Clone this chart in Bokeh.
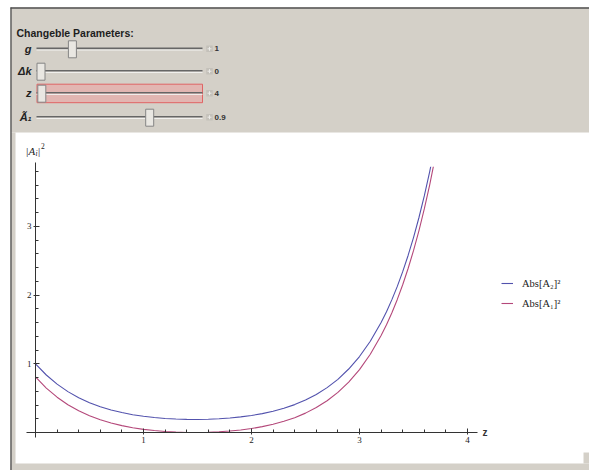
from bokeh.plotting import figure
from bokeh.models import Range1d, FixedTicker, LinearAxis, Legend, LegendItem
from bokeh.core.properties import value
from bokeh.embed import file_html
from bokeh.resources import INLINE

# ---- data -------------------------------------------------------------
z = [0.0, 0.1, 0.2, 0.3, 0.4, 0.5, 0.6, 0.7, 0.8, 0.9, 1.0, 1.1, 1.2, 1.3,
     1.4, 1.5, 1.6, 1.7, 1.8, 1.9, 2.0, 2.1, 2.2, 2.3, 2.4, 2.5, 2.6, 2.7,
     2.8, 2.9, 3.0, 3.1, 3.2, 3.25, 3.3, 3.35, 3.4, 3.45, 3.5, 3.55, 3.6,
     3.65, 3.7, 3.75, 3.8]
abs_a2_sq = [1.000, 0.837, 0.704, 0.595, 0.506, 0.434, 0.375, 0.328, 0.290,
             0.259, 0.236, 0.218, 0.204, 0.196, 0.191, 0.190, 0.193, 0.200,
             0.211, 0.227, 0.248, 0.275, 0.310, 0.353, 0.406, 0.472, 0.553,
             0.653, 0.774, 0.924, 1.106, 1.329, 1.601, 1.759, 1.934, 2.127,
             2.341, 2.577, 2.837, 3.126, 3.444, 3.796, 4.186, 4.616, 5.091]
abs_a1_sq = [0.810, 0.647, 0.514, 0.405, 0.316, 0.244, 0.185, 0.138, 0.100,
             0.069, 0.046, 0.028, 0.014, 0.006, 0.001, 0.000, 0.003, 0.010,
             0.021, 0.037, 0.058, 0.085, 0.120, 0.163, 0.216, 0.282, 0.363,
             0.463, 0.584, 0.734, 0.916, 1.139, 1.411, 1.569, 1.744, 1.937,
             2.151, 2.387, 2.647, 2.936, 3.254, 3.606, 3.996, 4.426, 4.901]
series_labels = ["Abs[A\u2082]\u00b2", "Abs[A\u2081]\u00b2"]

x_ticks = [1, 2, 3, 4]
x_minor = [0.2, 0.4, 0.6, 0.8, 1.2, 1.4, 1.6, 1.8, 2.2, 2.4, 2.6, 2.8,
           3.2, 3.4, 3.6, 3.8]
y_ticks = [1, 2, 3]
y_minor = [0.2, 0.4, 0.6, 0.8, 1.2, 1.4, 1.6, 1.8, 2.2, 2.4, 2.6, 2.8,
           3.2, 3.4, 3.6, 3.8]
y_clip = 3.87          # upper plot range

# control panel parameters
param_labels = ["g", "\u0394k", "z", "\u00c3\u2081"]
param_values = [1, 0, 4, 0.9]
param_texts = ["1", "0", "4", "0.9"]
param_min = [0, 0, 3.5, 0]
param_max = [5, 10, 100, 1.3]
active_param = 2

# ---- figure -------------------------------------------------------------
W, H = 589, 470
X0_PX, Y0_PX, XS, YS = 35, 432, 108.0, 68.7

p = figure(width=W, height=H, output_backend="svg", toolbar_location=None,
           x_range=Range1d(-X0_PX / XS, (W - X0_PX) / XS),
           y_range=Range1d((Y0_PX - H) / YS, Y0_PX / YS),
           x_axis_type=None, y_axis_type=None, min_border=0,
           background_fill_color="white", border_fill_color="white",
           outline_line_color=None)
p.grid.visible = False
p.extra_x_ranges = {"px": Range1d(0, W)}
p.extra_y_ranges = {"px": Range1d(H, 0)}
PX = dict(x_range_name="px", y_range_name="px")

BLUE = "#5252ad"
RED = "#b4487a"
r2 = p.line(z, abs_a2_sq, line_color=BLUE, line_width=1.1)
r1 = p.line(z, abs_a1_sq, line_color=RED, line_width=1.1)

# clip everything above the plot range
p.quad(left=[-1], right=[6], bottom=[y_clip], top=[7],
       fill_color="white", line_color=None)

# ---- axes crossing at the origin ---------------------------------------
xaxis = LinearAxis(fixed_location=0, bounds=(-0.08, 4.09),
                   ticker=FixedTicker(ticks=x_ticks, minor_ticks=x_minor))
yaxis = LinearAxis(fixed_location=0, bounds=(-0.08, 3.93),
                   ticker=FixedTicker(ticks=y_ticks, minor_ticks=y_minor))
for ax in (xaxis, yaxis):
    ax.axis_line_color = "#333333"
    ax.major_tick_line_color = "#333333"
    ax.minor_tick_line_color = "#333333"
    ax.major_tick_in = 4
    ax.major_tick_out = 2
    ax.minor_tick_in = 3
    ax.minor_tick_out = 0
    ax.major_label_text_font = "Liberation Serif"
    ax.major_label_text_font_size = "9px"
    ax.major_label_text_color = "#222222"
    ax.major_label_standoff = 2
p.add_layout(xaxis, "below")
p.add_layout(yaxis, "left")

p.text(x=[4.14], y=[0], text=["z"], text_font=value("Liberation Sans"),
       text_font_style="bold", text_font_size="10px", text_color="#333333",
       text_baseline="middle", text_align="left")

# ---- frame and control panel ------------------------------------------
PANEL = "#d4d0c8"
p.quad(left=[10, 10, 10, 583], right=[W, 15, W, W], top=[7, 132, 463, 452],
       bottom=[132, H, H, 463], fill_color=PANEL, line_color=None, **PX)
p.segment(x0=[10, 10.5], y0=[7.5, 7], x1=[W, 10.5], y1=[7.5, H],
          line_color="#505050", line_width=1.3, **PX)

# y-axis label |A_i|^2
serif = value("Liberation Serif")
p.text(x=[25], y=[150], text=["|A"], text_font=serif, text_font_style="italic",
       text_font_size="11px", text_color="#222222", text_baseline="middle", **PX)
p.text(x=[35], y=[153], text=["i"], text_font=serif, text_font_style="italic",
       text_font_size="7.5px", text_color="#222222", text_baseline="middle", **PX)
p.text(x=[37.5], y=[150], text=["|"], text_font=serif,
       text_font_size="11px", text_color="#222222", text_baseline="middle", **PX)
p.text(x=[40.5], y=[145], text=["2"], text_font=serif,
       text_font_size="7.5px", text_color="#222222", text_baseline="middle", **PX)

sans = value("Liberation Sans")
p.text(x=[16], y=[32], text=["Changeble Parameters:"], text_font=sans,
       text_font_style="bold", text_font_size="10.5px", text_color="#1e1e1e",
       text_baseline="middle", **PX)

row_y = [48.3, 70.7, 92.7, 116.7]
track_l, track_r = 36, 202
thumb_l, thumb_r = 40.5, 197.5

hy = row_y[active_param]
p.quad(left=[36.5], right=[202], top=[hy - 9], bottom=[hy + 9.5],
       fill_color="#e2b6b2", line_color="#e06464", line_width=1, **PX)

p.segment(x0=[track_l] * 4, y0=[y - 0.4 for y in row_y],
          x1=[track_r] * 4, y1=[y - 0.4 for y in row_y],
          line_color="#666666", line_width=1.6, **PX)
p.segment(x0=[track_l] * 4, y0=[y + 1.2 for y in row_y],
          x1=[track_r] * 4, y1=[y + 1.2 for y in row_y],
          line_color="#f4f4f2", line_width=1, **PX)

thumb_x = [thumb_l + (v - lo) / (hi - lo) * (thumb_r - thumb_l)
           for v, lo, hi in zip(param_values, param_min, param_max)]
p.rect(x=thumb_x, y=[y + 0.5 for y in row_y], width=8, height=17,
       fill_color="#e9e7e2", line_color="#858585", line_width=1, **PX)

# small "+" buttons and value readouts
p.rect(x=[209] * 4, y=row_y, width=6.5, height=6.5,
       fill_color="#c4c1ba", line_color=None, **PX)
p.segment(x0=[207] * 4, y0=row_y, x1=[211] * 4, y1=row_y,
          line_color="#ecebe8", line_width=1, **PX)
p.segment(x0=[209] * 4, y0=[y - 2 for y in row_y], x1=[209] * 4,
          y1=[y + 2 for y in row_y], line_color="#ecebe8", line_width=1, **PX)
p.text(x=[214] * 4, y=row_y, text=param_texts, text_font=sans,
       text_font_style="bold", text_font_size="8px", text_color="#333333",
       text_baseline="middle", **PX)

p.text(x=[31] * 4, y=row_y, text=param_labels, text_font=sans,
       text_font_style="bold italic", text_font_size="11px",
       text_color="#222222", text_baseline="middle", text_align="right", **PX)

# ---- legend -------------------------------------------------------------
legend = Legend(items=[LegendItem(label=series_labels[0], renderers=[r2]),
                       LegendItem(label=series_labels[1], renderers=[r1])],
                location=(501, 160), orientation="vertical",
                glyph_width=12, glyph_height=14, label_height=14,
                label_standoff=9, spacing=6, padding=0, margin=0,
                border_line_color=None, background_fill_alpha=0,
                label_text_font="Liberation Serif",
                label_text_font_size="10.5px", label_text_color="#222222")
p.add_layout(legend, "center")

open("out.html", "w").write(file_html(p, INLINE))
